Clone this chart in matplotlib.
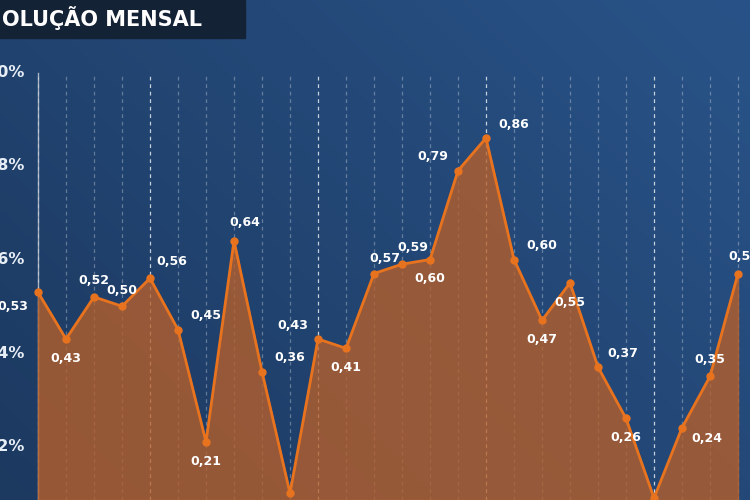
import numpy as np
import matplotlib.pyplot as plt

values = [0.53, 0.43, 0.52, 0.50, 0.56, 0.45, 0.21, 0.64, 0.36, 0.10,
          0.43, 0.41, 0.57, 0.59, 0.60, 0.79, 0.86, 0.60, 0.47, 0.55,
          0.37, 0.26, 0.09, 0.24, 0.35, 0.57]
label_offsets = [(-18, -10), (0, -14), (0, 12), (0, 11), (16, 12), (20, 10),
                 (0, -14), (8, 13), (20, 10), (0, -14), (-18, 10), (0, -14),
                 (8, 11), (8, 12), (0, -14), (-18, 10), (20, 10), (20, 10),
                 (0, -14), (0, -14), (18, 10), (0, -14), (0, -14), (18, -8),
                 (0, 12), (4, 12)]
ytick_values = [1.0, 0.8, 0.6, 0.4, 0.2]
ytick_labels = ["1,0%", "0,8%", "0,6%", "0,4%", "0,2%"]

fig = plt.figure(figsize=(7.5, 5), dpi=100)
ax = fig.add_axes([0, 0, 1, 1])
x0, x1 = -38 / 28, 25 + 12 / 28
y0, y1 = 40 / 467.5, 540 / 467.5
ax.set_xlim(x0, x1)
ax.set_ylim(y0, y1)
ax.axis("off")

# background gradient
grad = np.linspace(0, 1, 256).reshape(1, -1) * 0.6 + np.linspace(1, 0, 256).reshape(-1, 1) * 0.4
ax.imshow(grad, extent=[x0, x1, y0, y1], aspect="auto", zorder=0,
          cmap=plt.matplotlib.colors.LinearSegmentedColormap.from_list("bg", ["#1c3960", "#295388"]))

x = np.arange(len(values))
for i in x:
    strong = i % 6 == 4
    ax.plot([i, i], [y0, 1.0], color="white", lw=0.9, ls=(0, (3, 3)),
            alpha=0.75 if strong else 0.3, zorder=1)
ax.plot([0, 0], [y0, 1.0], color="white", lw=1, alpha=0.6, zorder=1)

ax.fill_between(x, values, y0, color="#b8602a", alpha=0.78, zorder=2)
ax.plot(x, values, color="#e8731f", lw=2, marker="o", ms=5, zorder=3)

for i, (v, (dx, dy)) in enumerate(zip(values, label_offsets)):
    ax.annotate(f"{v:.2f}".replace(".", ","), (i, v), xytext=(dx, dy),
                textcoords="offset points", ha="center", va="center",
                color="white", fontsize=9, fontweight="bold", zorder=4)

for v, lab in zip(ytick_values, ytick_labels):
    ax.text(-13 / 28, v, lab, ha="right", va="center", color="#e8eef5",
            fontsize=11.5, fontweight="bold")

# title box
fig.patches.append(plt.Rectangle((0, 462 / 500), 245 / 750, 38 / 500,
                                 transform=fig.transFigure, color="#142235", zorder=5))
fig.text(2 / 750, 482 / 500, "OLUÇÃO MENSAL", color="white", fontsize=15,
         fontweight="bold", va="center", ha="left", zorder=6)

fig.savefig("out.png", dpi=100)
